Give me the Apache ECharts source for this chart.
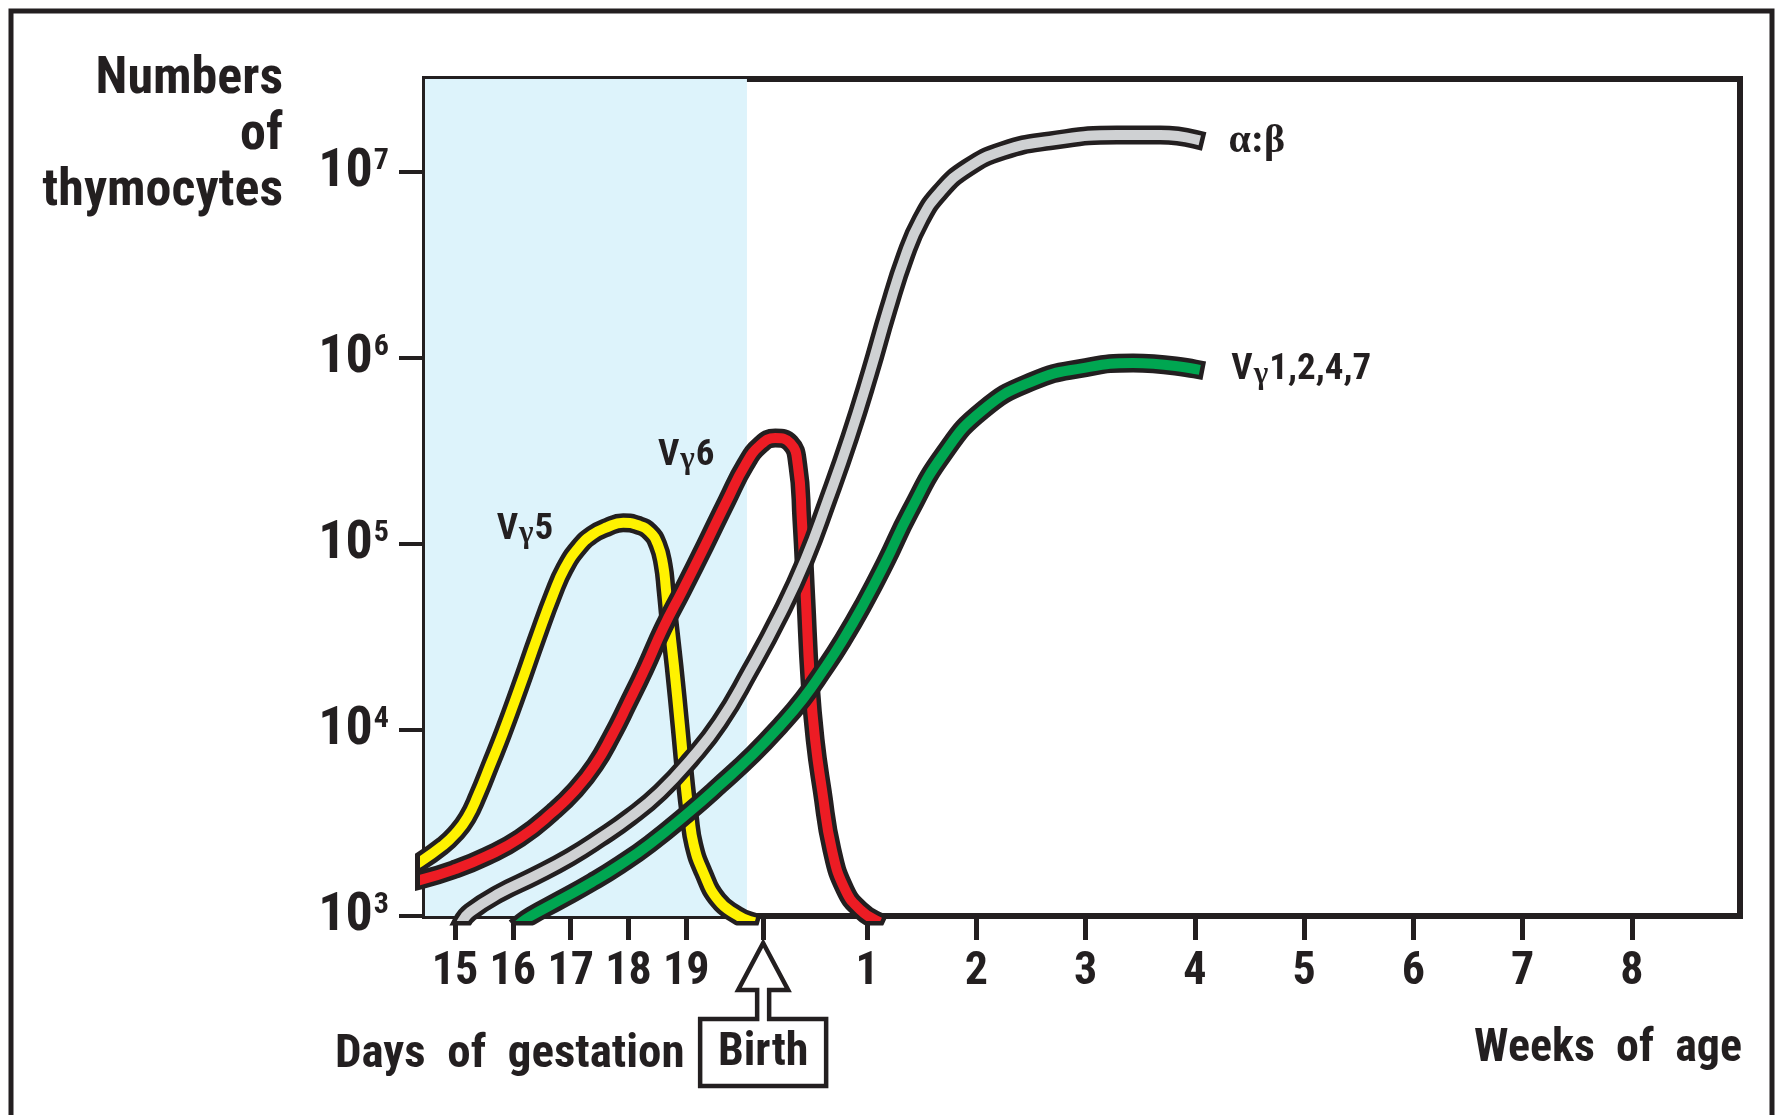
<!DOCTYPE html>
<html>
<head>
<meta charset="utf-8">
<script src="https://cdn.jsdelivr.net/npm/echarts@6/dist/echarts.min.js"></script>
<style>
  html, body { margin: 0; padding: 0; background: #fff; }
  #chart { width: 1777px; height: 1115px; }
</style>
</head>
<body>
<div id="chart"></div>
<script>
// x axis is schematic: one unit per gestation day, weeks after birth packed tighter
const xTickValues = [15, 16, 17, 18, 19, 20.33, 22.13, 24.02, 25.91, 27.80, 29.69, 31.58, 33.47, 35.36];
const xTickLabels = ['15', '16', '17', '18', '19', '', '1', '2', '3', '4', '5', '6', '7', '8'];
const birthX = 20.33;
const gestationEnd = 20.05;
const yTickValues = [1e3, 1e4, 1e5, 1e6, 1e7];

// [x, thymocytes]
const vg5 = [
  [14.39, 1950], [14.78, 2380], [15.00, 2760], [15.21, 3370], [15.40, 4480],
  [15.61, 6490], [15.83, 9640], [16.12, 17000], [16.42, 31300], [16.70, 53800],
  [16.90, 74300], [17.13, 95100], [17.37, 112000], [17.63, 123000], [17.91, 130000],
  [18.17, 126000], [18.37, 116000], [18.51, 98800], [18.60, 77100], [18.65, 56600],
  [18.70, 39000], [18.79, 21800], [18.89, 10600], [18.98, 5380], [19.05, 3490],
  [19.13, 2410], [19.29, 1730], [19.55, 1220], [19.88, 1010], [20.10, 940]
];
const vg6 = [
  [14.39, 1560], [14.97, 1770], [15.55, 2100], [16.12, 2620], [16.69, 3620],
  [17.08, 4750], [17.42, 6480], [17.72, 9400], [17.98, 13600], [18.29, 21500],
  [18.60, 35300], [18.94, 56600], [19.33, 98800], [19.71, 172600], [20.02, 266000],
  [20.28, 340000], [20.54, 371000], [20.80, 349000], [20.93, 266000], [21.00, 134600],
  [21.07, 50000], [21.14, 18600], [21.23, 8830], [21.35, 4750], [21.52, 2270],
  [21.75, 1380], [22.01, 1080], [22.27, 950]
];
const alphaBeta = [
  [15.12, 930], [15.26, 1050], [15.78, 1330], [16.38, 1640], [16.99, 2070],
  [17.51, 2620], [18.03, 3400], [18.55, 4640], [19.07, 6900], [19.58, 11000],
  [20.10, 20700], [20.62, 41500], [21.06, 82000], [21.45, 172600], [21.83, 376000],
  [22.18, 841000], [22.49, 1810000], [22.79, 3530000], [23.06, 5520000], [23.39, 7800000],
  [23.86, 10500000], [24.48, 13000000], [25.29, 14700000], [26.45, 15800000],
  [27.20, 15800000], [27.80, 15000000]
];
const vg1247 = [
  [16.16, 929], [16.31, 1000], [16.82, 1220], [17.37, 1520], [17.85, 1880],
  [18.37, 2440], [19.03, 3580], [19.58, 5060], [20.16, 7430], [20.62, 10500],
  [21.02, 14700], [21.35, 20500], [21.70, 30100], [22.08, 48200], [22.44, 79000],
  [22.87, 149000], [23.44, 301000], [24.13, 525000], [25.00, 752000], [25.86, 883000],
  [26.73, 940000], [27.80, 873000]
];

// where each curve's name sits
const labelAt = {
  vg5: [16.21, 119000],
  vg6: [19.00, 300000],
  ab: [28.87, 14500000],
  vg1247: [29.64, 861000]
};

const ink = '#231F20';
const SERIF = "'Liberation Serif', 'DejaVu Serif', serif";

// the figure is set in a condensed bold sans; use one if the machine has it
function pickFont() {
  const ctx = document.createElement('canvas').getContext('2d');
  const sample = 'Numbers of thymocytes 0123456789';
  const width = f => { ctx.font = f; return ctx.measureText(sample).width; };
  const ref = width("bold 100px 'Liberation Sans', monospace");
  const mono = width('bold 100px monospace');
  const tries = [
    ['Liberation Sans Narrow', ''], ['Arial Narrow', ''], ['Nimbus Sans Narrow', ''],
    ['Noto Sans Condensed', ''], ['Roboto Condensed', ''],
    ['Noto Sans', 'condensed'], ['DejaVu Sans Condensed', ''], ['DejaVu Sans', 'condensed']
  ];
  for (const [fam, st] of tries) {
    const w = width((st ? st + ' ' : '') + "bold 100px '" + fam + "', monospace");
    if (Math.abs(w - mono) > 1 && w / ref < 0.92 && w / ref > 0.7) {
      return { family: "'" + fam + "', 'Liberation Sans', sans-serif", weight: (st ? st + ' ' : '') + 'bold', squeeze: 1, narrow: true };
    }
  }
  return { family: "'Liberation Sans', Arial, sans-serif", weight: 'bold', squeeze: 0.85, narrow: false };
}
const font = pickFont();
const F = font.family, W = font.weight;
const sz = font.narrow
  ? { x: 46, y: 54, sup: 30, v: 37, g: 31 }
  : { x: 41, y: 50, sup: 28, v: 34, g: 30 };

const chart = echarts.init(document.getElementById('chart'));

const curveRich = {
  v: { fontFamily: F, fontWeight: W, fontSize: sz.v, color: ink },
  g: { fontFamily: SERIF, fontWeight: 'bold', fontSize: sz.g, color: ink, padding: [9, 1, 0, 1] },
  a: { fontFamily: SERIF, fontWeight: 'bold', fontSize: 40, color: ink }
};

function nameMark(pos, text) {
  return {
    symbol: 'circle',
    symbolSize: 0,
    silent: true,
    label: { show: true, position: 'inside', formatter: text, rich: curveRich },
    data: [{ coord: pos }]
  };
}

function tube(name, data, fill, mark) {
  const base = { type: 'line', name: name, data: data, symbol: 'none', smooth: 0.5, clip: true, silent: true, z: 2 };
  return [
    Object.assign({}, base, { lineStyle: { color: ink, width: 19, cap: 'square', join: 'round' } }),
    Object.assign({}, base, { lineStyle: { color: fill, width: 10, cap: 'square', join: 'round' }, markPoint: mark })
  ];
}

const option = {
  animation: false,
  grid: { left: 425, top: 79, right: 37, bottom: 199, show: true, borderColor: ink, borderWidth: 6, outerBoundsMode: 'none' },
  xAxis: {
    type: 'value', min: 14.48, max: 37.23,
    splitLine: { show: false },
    axisLine: { show: true, onZero: false, lineStyle: { color: ink, width: 6 } },
    axisTick: { show: true, customValues: xTickValues, length: 24, lineStyle: { color: ink, width: 5 } },
    axisLabel: {
      customValues: xTickValues.filter((v, i) => xTickLabels[i] !== ''),
      formatter: function (v) {
        const i = xTickValues.findIndex(t => Math.abs(t - v) < 1e-6);
        return i >= 0 ? xTickLabels[i] : '';
      },
      margin: font.narrow ? 33 : 36, color: ink, fontFamily: F, fontWeight: W, fontSize: sz.x
    }
  },
  yAxis: {
    type: 'log', logBase: 10, min: 1000, max: 31622776.6,
    splitLine: { show: false },
    minorTick: { show: false },
    axisLine: { show: true, lineStyle: { color: ink, width: 6 } },
    axisTick: { show: true, customValues: yTickValues, length: 26, lineStyle: { color: ink, width: 4 } },
    axisLabel: {
      customValues: yTickValues,
      margin: 36,
      formatter: function (v) {
        return '{b|10}{s|' + Math.round(Math.log10(v)) + '}';
      },
      rich: {
        b: { fontFamily: F, fontWeight: W, fontSize: sz.y, color: ink, lineHeight: sz.y + 2 },
        s: { fontFamily: F, fontWeight: W, fontSize: sz.sup, color: ink, lineHeight: sz.sup, verticalAlign: 'top', padding: [2, 0, 0, 1] }
      }
    }
  },
  series: [
    {
      type: 'line', data: [], z: 1, silent: true,
      markArea: {
        silent: true,
        itemStyle: { color: '#DDF3FB' },
        data: [[{ xAxis: 14.48 }, { xAxis: gestationEnd }]]
      }
    },
    ...tube('Vγ5', vg5, '#FFF200', nameMark(labelAt.vg5, '{v|V}{g|γ}{v|5}')),
    ...tube('Vγ6', vg6, '#ED1C24', nameMark(labelAt.vg6, '{v|V}{g|γ}{v|6}')),
    ...tube('α:β', alphaBeta, '#CFD1D3', nameMark(labelAt.ab, '{a|α:β}')),
    ...tube('Vγ1,2,4,7', vg1247, '#00A651', nameMark(labelAt.vg1247, '{v|V}{g|γ}{v|1,2,4,7}'))
  ]
};

chart.setOption(option);

// annotations placed from the axis
const birth = chart.convertToPixel({ xAxisIndex: 0, yAxisIndex: 0 }, [birthX, 1000]);
const bx = birth[0], by = birth[1];
function label(text, x, y, size, align) {
  return {
    type: 'text', silent: true, x: x, y: y, scaleX: font.squeeze,
    style: {
      text: text, x: 0, y: 0, fill: ink,
      font: W + ' ' + size + 'px ' + F,
      align: align, textAlign: align, verticalAlign: 'middle', textVerticalAlign: 'middle'
    }
  };
}

chart.setOption({
  graphic: [
    { type: 'rect', silent: true, shape: { x: 11, y: 11, width: 1761, height: 1200 }, style: { fill: 'none', stroke: ink, lineWidth: 5 } },
    label('Numbers', 283, 80, 52, 'right'),
    label('of', 283, 136, 52, 'right'),
    label('thymocytes', 283, 192, 52, 'right'),
    label('Days  of  gestation', 335, 1055, 47, 'left'),
    label('Weeks  of  age', 1742, 1049, 46, 'right'),
    {
      type: 'polygon', silent: true,
      shape: {
        points: [
          [bx, by + 27], [bx + 25, by + 74], [bx + 6, by + 74], [bx + 6, by + 103],
          [bx + 63, by + 103], [bx + 63, by + 170], [bx - 63, by + 170], [bx - 63, by + 103],
          [bx - 6, by + 103], [bx - 6, by + 74], [bx - 25, by + 74]
        ]
      },
      style: { fill: '#fff', stroke: ink, lineWidth: 4.5, lineJoin: 'miter' }
    },
    label('Birth', bx, by + 137, 46, 'center')
  ]
});
</script>
</body>
</html>
